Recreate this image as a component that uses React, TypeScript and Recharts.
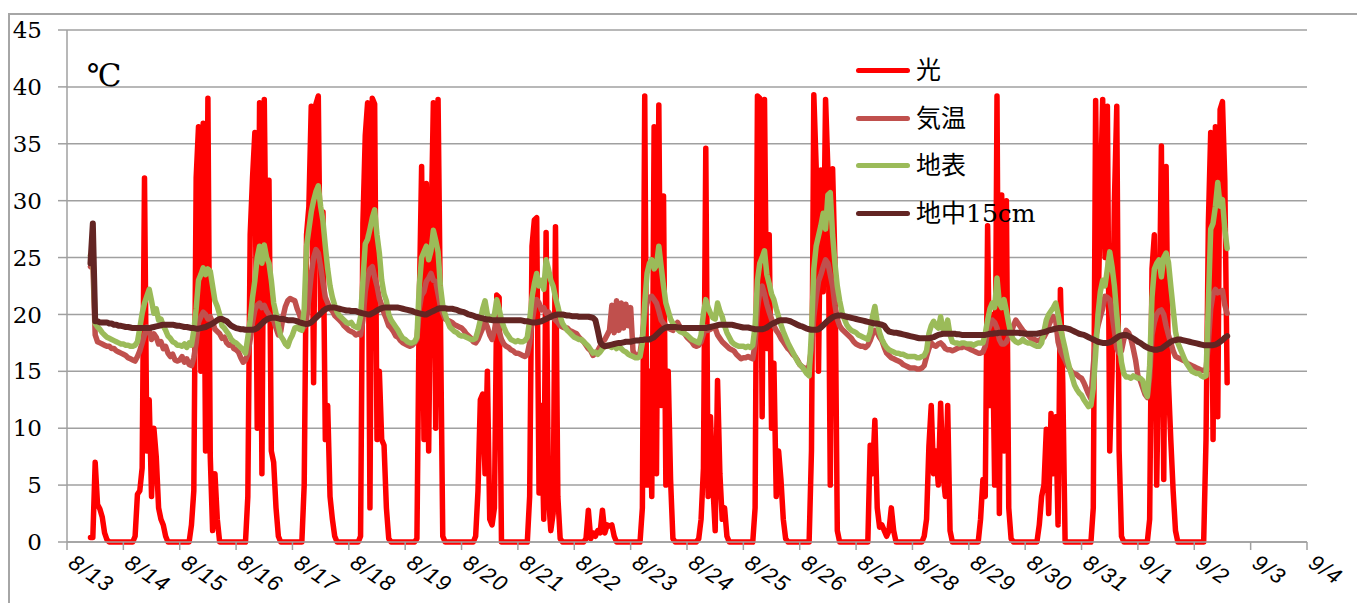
import { LineChart, Line, XAxis, YAxis, CartesianGrid } from "recharts";

const _ = null;

// x axis: one tick per day, 8/13 .. 9/4
const dayLabels = [
  "8/13", "8/14", "8/15", "8/16", "8/17", "8/18", "8/19", "8/20", "8/21", "8/22", "8/23", "8/24",
  "8/25", "8/26", "8/27", "8/28", "8/29", "8/30", "8/31", "9/1", "9/2", "9/3", "9/4",
];
const yTicks = [0, 5, 10, 15, 20, 25, 30, 35, 40, 45];

// 光 : hourly readings 4:00 .. 19:00, one row per day (8/13 .. 9/2)
const light: (number | null)[][] = [
  [_, _, _, _, _, _, 0.4, 0.4, 7, 3.3, 2.9, 2.2, 0.8, 0.2, 0, 0],
  [0, 0.5, 4.2, 4.5, 6.5, 32, 8, 12.5, 4, 10, 7.5, 3, 2, 1.5, 0.5, 0],
  [0, 1.5, 4.5, 32, 36.5, 15, 36.8, 8, 39, 7.5, 1, 6, 2, 0, 0, 0],
  [0, 4, 27, 32, 36, 10, 38.6, 6, 38.9, 20, 31.8, 8, 7, 3, 0.5, 0],
  [0, 5, 27, 29.5, 38.3, 14, 38.5, 39.2, 20, 29, 9, 12, 4, 2, 0.5, 0],
  [0, 0.5, 28, 35.7, 38.6, 3, 39, 38.5, 9, 15, 9, 8.5, 3, 0.3, 0, 0],
  [0, 0.3, 21, 33, 9, 31.5, 8, 27, 38.6, 10, 38.9, 20, 0.5, 0, 0, 0],
  [0, 0, 0.5, 4.5, 12.5, 13, 6, 15, 2, 1.5, 3, 21.7, 21.5, 0, 0, 0],
  [0, 4, 26, 28.3, 28.5, 4.3, 12, 2, 27.2, 4, 1, 2.5, 27.7, 4, 0.3, 0],
  [0, 0.3, 2.8, 0.3, 0.8, 0.5, 1, 0.8, 2.8, 0.8, 1.5, 1.4, 1.5, 0.5, 0, 0],
  [0, 3, 39.2, 5, 15, 4, 36.5, 6, 38.4, 12, 30.4, 5, 15, 5.5, 0.3, 0],
  [0, 0.3, 2, 6.5, 34.6, 4, 11, 5, 1, 14.2, 6, 2, 3, 0.5, 0, 0],
  [0, 3, 39.2, 39, 11, 38.9, 17, 27, 10, 15.7, 4, 8, 5.5, 2, 0.3, 0],
  [0, 8, 39.3, 33, 15, 32.7, 22, 38.9, 32.7, 5, 32.8, 24.5, 1, 0, 0, 0],
  [0, 0, 8.5, 6, 10.7, 3, 1.3, 1.5, 1, 0.5, 1, 3, 1, 0, 0, 0],
  [0, 0.5, 2, 8.4, 12, 6, 8, 5, 12.2, 6, 4, 12, 1, 0, 0, 0],
  [0, 2, 5.5, 4, 27.8, 12, 20, 5, 39.2, 2.5, 30.5, 8, 30, 3, 0.3, 0],
  [0, 0, 1.5, 4, 5, 9.9, 2.5, 11.3, 6, 11, 1.5, 22.2, 14, 0, 0, 0],
  [0, 3, 38.8, 20, 29.8, 38.9, 25, 38.3, 8, 15, 30, 38.3, 8, 0.5, 0, 0],
  [0, 2, 24, 27, 5, 18, 34.8, 5.5, 33, 14, 9, 4.5, 1, 0, 0, 0],
  [0, 9, 28, 36, 9, 36.5, 11, 38, 38.7, 31.8, 14, _, _, _, _, _],
];

// 気温 : hourly 0:00 .. 23:00
const airTemp: (number | null)[][] = [
  [_, _, _, _, _, _, _, _, _, _, 24.2, 24.5, 18.2, 17.6, 17.5, 17.4, 17.3, 17.2, 17.2, 17.0, 17.0, 16.8, 16.7, 16.6],
  [16.5, 16.4, 16.2, 16.1, 16.0, 15.9, 16.3, 16.8, 17.5, 18.2, 18.9, 18.6, 17.8, 18.3, 18.0, 17.4, 17.6, 17.0, 17.2, 16.6, 16.3, 16.5, 16.0, 15.9],
  [16.0, 16.3, 15.8, 16.1, 15.6, 15.5, 16.2, 17.5, 19.3, 19.8, 20.2, 20.0, 19.6, 19.8, 19.3, 18.7, 18.5, 18.3, 17.9, 18.0, 17.5, 17.3, 17.4, 17.0],
  [16.9, 16.7, 16.2, 15.8, 16.0, 16.5, 17.8, 19.3, 20.4, 20.8, 21.0, 20.6, 20.8, 20.3, 20.0, 19.6, 19.5, 18.8, 18.2, 18.5, 19.8, 20.7, 21.2, 21.4],
  [21.3, 21.2, 20.5, 20.0, 19.3, 18.9, 19.5, 21.5, 23.5, 25.0, 25.7, 25.4, 24.2, 22.8, 21.5, 21.0, 20.5, 20.3, 19.9, 19.7, 19.5, 19.3, 19.0, 18.8],
  [18.6, 18.5, 18.4, 18.2, 18.3, 18.2, 19.5, 22.0, 23.2, 24.0, 24.2, 23.3, 22.5, 21.4, 20.8, 20.1, 19.6, 19.0, 18.8, 18.5, 18.1, 18.0, 17.7, 17.5],
  [17.4, 17.3, 17.2, 17.3, 17.5, 17.8, 20.5, 21.7, 22.0, 22.9, 23.2, 23.6, 23.0, 22.9, 21.8, 20.7, 20.1, 19.6, 19.5, 19.4, 19.3, 19.1, 19.0, 18.9],
  [18.8, 18.6, 18.3, 18.1, 17.9, 17.6, 17.5, 17.8, 18.3, 18.8, 19.4, 18.9, 18.2, 17.8, 18.6, 19.9, 18.5, 17.8, 17.4, 17.2, 17.1, 16.9, 16.8, 16.6],
  [16.6, 16.5, 16.4, 16.3, 16.5, 17.5, 19.3, 20.6, 21.3, 21.0, 20.4, 20.6, 20.1, 20.2, 19.9, 19.7, 19.5, 19.3, 19.0, 18.9, 18.8, 18.8, 18.6, 18.5],
  [18.4, 18.3, 18.0, 17.8, 17.6, 17.3, 17.0, 16.8, 16.4, 16.6, 16.8, 17.2, 17.6, 17.8, 18.2, 18.6, 20.8, 18.4, 21.2, 18.6, 21.0, 18.8, 20.9, 19.0],
  [20.6, 16.8, 16.4, 16.4, 16.6, 18.0, 20.0, 21.0, 21.5, 21.6, 21.3, 21.0, 20.3, 19.5, 19.2, 19.0, 18.8, 18.7, 18.6, 19.0, 19.3, 18.9, 18.6, 18.3],
  [18.0, 17.8, 17.6, 17.3, 17.2, 17.3, 17.6, 18.3, 18.9, 18.6, 18.7, 18.9, 18.8, 18.2, 17.9, 17.6, 17.4, 17.2, 17.0, 16.9, 16.8, 16.5, 16.3, 16.1],
  [16.2, 16.2, 16.3, 16.2, 16.1, 17.5, 20.5, 22.0, 22.5, 21.8, 20.9, 20.2, 19.6, 19.0, 18.6, 18.3, 17.9, 17.6, 17.3, 17.0, 16.8, 16.5, 16.3, 16.0],
  [15.6, 15.4, 15.3, 15.1, 15.5, 17.0, 19.8, 21.5, 22.9, 23.5, 24.2, 24.8, 24.5, 23.5, 22.5, 20.8, 19.6, 19.0, 18.7, 18.5, 18.3, 18.1, 17.9, 17.6],
  [17.4, 17.3, 17.2, 17.2, 17.1, 17.3, 17.7, 18.3, 18.6, 18.4, 18.0, 17.7, 17.1, 16.6, 16.4, 16.2, 16.1, 16.0, 15.9, 15.8, 15.6, 15.5, 15.4, 15.3],
  [15.3, 15.3, 15.2, 15.2, 15.3, 15.5, 16.3, 17.0, 17.5, 17.3, 17.2, 17.4, 17.5, 17.3, 17.0, 16.9, 16.9, 16.8, 16.9, 17.0, 17.1, 17.1, 17.2, 17.1],
  [17.0, 16.9, 16.8, 16.7, 16.6, 16.6, 16.7, 17.2, 18.5, 19.0, 19.5, 19.3, 18.8, 17.8, 17.4, 17.4, 17.6, 18.0, 18.4, 19.0, 19.5, 19.2, 18.9, 18.6],
  [18.4, 18.2, 18.0, 17.8, 17.8, 17.7, 17.7, 17.9, 18.0, 18.4, 19.0, 19.5, 19.8, 19.5, 17.6, 16.8, 16.4, 16.0, 15.5, 15.2, 14.9, 14.8, 14.7, 14.5],
  [14.4, 14.0, 13.5, 13.0, 12.6, 15.5, 18.0, 19.0, 19.8, 20.5, 21.6, 21.5, 21.3, 20.0, 18.5, 17.0, 16.6, 16.8, 17.8, 18.6, 18.4, 17.9, 17.0, 16.0],
  [14.6, 14.2, 13.6, 13.0, 12.7, 14.5, 18.2, 19.3, 20.0, 20.3, 20.4, 20.0, 19.0, 18.2, 17.5, 16.8, 16.3, 16.2, 16.1, 16.0, 15.9, 15.7, 15.6, 15.5],
  [15.4, 15.3, 15.2, 15.1, 15.1, 15.1, 17.5, 20.5, 21.8, 22.2, 21.9, 22.0, 22.1, 20.8, 20.1, _, _, _, _, _, _, _, _, _],
];

// 地表 : hourly 0:00 .. 23:00
const surfaceTemp: (number | null)[][] = [
  [_, _, _, _, _, _, _, _, _, _, 25.2, 25.5, 19.2, 18.9, 18.7, 18.4, 18.2, 18.0, 17.9, 17.8, 17.7, 17.6, 17.5, 17.4],
  [17.4, 17.3, 17.3, 17.2, 17.2, 17.3, 17.6, 18.8, 20.1, 21.0, 21.6, 22.2, 21.2, 20.1, 20.5, 19.5, 19.6, 19.0, 18.6, 18.1, 17.9, 17.6, 17.5, 17.3],
  [17.3, 17.2, 17.4, 17.1, 17.5, 17.3, 18.6, 20.5, 23.0, 23.5, 24.1, 23.5, 24.0, 23.8, 22.5, 21.2, 20.7, 20.0, 19.0, 18.8, 18.5, 18.2, 17.8, 17.6],
  [17.5, 17.3, 17.1, 16.9, 16.6, 18.0, 19.5, 21.5, 23.0, 25.0, 26.0, 24.5, 26.1, 25.0, 24.5, 23.0, 21.0, 20.1, 19.0, 18.1, 17.8, 17.4, 17.2, 17.8],
  [18.2, 18.8, 18.9, 18.7, 18.6, 20.5, 26.0, 27.5, 29.0, 30.0, 30.8, 31.3, 29.5, 28.2, 26.0, 24.0, 22.5, 21.5, 20.8, 20.2, 19.9, 19.7, 19.5, 19.3],
  [19.2, 19.3, 19.0, 18.9, 18.8, 19.8, 23.0, 26.2, 26.6, 27.5, 28.5, 29.2, 27.0, 25.4, 23.0, 21.8, 21.2, 20.0, 19.5, 19.2, 18.9, 18.6, 18.2, 17.9],
  [17.8, 17.6, 17.5, 17.5, 17.6, 18.0, 22.5, 25.0, 25.5, 26.0, 24.8, 25.6, 27.4, 26.5, 25.5, 22.5, 20.8, 20.0, 19.4, 18.9, 18.7, 18.5, 18.4, 18.2],
  [18.1, 18.1, 18.0, 17.9, 17.8, 17.8, 17.9, 18.6, 19.5, 20.5, 21.2, 20.0, 19.5, 19.6, 20.0, 21.3, 20.5, 19.5, 18.9, 18.4, 18.1, 17.8, 17.7, 17.6],
  [17.7, 17.6, 17.6, 17.7, 18.0, 19.5, 21.5, 22.7, 23.6, 22.5, 23.0, 22.2, 24.8, 24.0, 23.0, 22.5, 21.5, 20.7, 19.8, 19.2, 18.9, 18.6, 18.4, 18.2],
  [18.0, 17.9, 17.8, 17.8, 17.6, 17.4, 17.2, 16.9, 16.6, 16.7, 16.5, 16.7, 17.0, 17.2, 17.3, 17.2, 17.1, 17.3, 17.0, 17.2, 17.0, 16.8, 16.7, 16.5],
  [16.4, 16.3, 16.2, 16.2, 16.3, 17.5, 21.0, 23.6, 24.5, 24.8, 24.0, 24.3, 26.0, 24.2, 22.5, 21.0, 20.3, 19.6, 19.2, 18.9, 18.7, 18.5, 18.4, 18.3],
  [18.2, 18.0, 17.8, 17.7, 17.6, 17.5, 18.2, 20.1, 21.3, 20.6, 20.1, 19.7, 19.6, 21.0, 20.3, 19.8, 19.0, 18.4, 18.0, 17.6, 17.4, 17.3, 17.2, 17.2],
  [17.2, 17.1, 17.2, 17.1, 17.3, 19.0, 23.0, 24.5, 25.0, 25.6, 23.5, 22.7, 21.8, 21.3, 20.5, 19.8, 19.1, 18.5, 18.0, 17.5, 17.1, 16.7, 16.3, 15.9],
  [15.6, 15.4, 15.1, 14.8, 14.6, 18.5, 24.0, 26.0, 26.9, 27.8, 28.9, 27.5, 30.5, 30.7, 27.0, 24.5, 22.5, 21.2, 20.2, 19.6, 19.1, 18.8, 18.6, 18.5],
  [18.4, 18.2, 18.1, 18.0, 17.9, 17.8, 18.4, 19.8, 20.7, 19.3, 18.4, 17.8, 17.4, 17.1, 16.9, 16.8, 16.7, 16.6, 16.6, 16.5, 16.5, 16.4, 16.3, 16.3],
  [16.3, 16.3, 16.2, 16.2, 16.3, 16.4, 16.8, 18.3, 19.0, 19.4, 19.0, 18.8, 19.8, 18.7, 18.5, 19.5, 18.2, 17.6, 17.5, 17.5, 17.4, 17.5, 17.5, 17.4],
  [17.4, 17.4, 17.3, 17.4, 17.5, 17.5, 17.5, 18.3, 19.5, 20.5, 21.0, 20.6, 23.2, 21.0, 20.6, 21.3, 20.3, 19.2, 18.2, 17.8, 17.6, 17.5, 17.6, 17.8],
  [17.6, 17.5, 17.5, 17.4, 17.3, 17.2, 17.2, 17.5, 18.5, 19.5, 20.0, 20.3, 20.6, 21.0, 20.0, 18.8, 17.9, 17.0, 16.0, 15.2, 14.5, 13.8, 13.4, 13.1],
  [12.9, 12.5, 12.2, 11.9, 12.0, 13.5, 16.5, 20.0, 22.0, 23.0, 22.5, 24.0, 25.5, 24.2, 22.5, 20.0, 17.8, 15.8, 14.8, 14.5, 14.5, 14.4, 14.6, 14.5],
  [14.4, 14.4, 14.2, 13.3, 12.8, 15.5, 21.5, 24.0, 24.5, 24.8, 23.3, 25.0, 25.4, 24.6, 22.5, 20.5, 18.5, 17.5, 17.0, 16.5, 16.0, 15.6, 15.3, 15.0],
  [14.9, 14.8, 14.8, 14.6, 14.5, 14.6, 21.0, 27.5, 28.0, 29.5, 31.6, 29.5, 30.1, 27.5, 25.8, _, _, _, _, _, _, _, _, _],
];

// 地中15cm : hourly 0:00 .. 23:00
const soilTemp: (number | null)[][] = [
  [_, _, _, _, _, _, _, _, _, _, 24.5, 28.0, 19.4, 19.4, 19.3, 19.3, 19.3, 19.3, 19.2, 19.2, 19.1, 19.1, 19.0, 19.0],
  [18.95, 18.9, 18.9, 18.85, 18.8, 18.8, 18.8, 18.8, 18.8, 18.8, 18.8, 18.8, 18.85, 18.9, 18.95, 19.0, 19.05, 19.1, 19.1, 19.1, 19.1, 19.1, 19.05, 19.0],
  [19.0, 18.95, 18.9, 18.9, 18.85, 18.8, 18.8, 18.75, 18.75, 18.8, 18.85, 18.9, 19.0, 19.1, 19.2, 19.35, 19.5, 19.6, 19.6, 19.5, 19.4, 19.2, 19.0, 18.9],
  [18.8, 18.75, 18.7, 18.7, 18.65, 18.65, 18.65, 18.65, 18.7, 18.8, 19.0, 19.2, 19.4, 19.55, 19.65, 19.7, 19.7, 19.7, 19.65, 19.6, 19.6, 19.55, 19.5, 19.5],
  [19.5, 19.45, 19.4, 19.3, 19.25, 19.2, 19.15, 19.2, 19.3, 19.5, 19.7, 19.9, 20.1, 20.3, 20.45, 20.55, 20.6, 20.6, 20.6, 20.55, 20.5, 20.45, 20.4, 20.35],
  [20.35, 20.3, 20.3, 20.3, 20.2, 20.15, 20.1, 20.05, 20.0, 20.0, 20.1, 20.2, 20.35, 20.45, 20.55, 20.6, 20.6, 20.6, 20.6, 20.6, 20.6, 20.6, 20.55, 20.5],
  [20.45, 20.4, 20.35, 20.3, 20.2, 20.15, 20.1, 20.05, 20.0, 20.0, 20.1, 20.2, 20.3, 20.4, 20.5, 20.55, 20.55, 20.55, 20.5, 20.5, 20.5, 20.45, 20.4, 20.3],
  [20.25, 20.2, 20.1, 20.0, 19.95, 19.9, 19.8, 19.75, 19.7, 19.65, 19.6, 19.55, 19.55, 19.5, 19.5, 19.5, 19.5, 19.5, 19.5, 19.5, 19.5, 19.5, 19.5, 19.5],
  [19.5, 19.5, 19.45, 19.4, 19.4, 19.35, 19.3, 19.3, 19.3, 19.35, 19.4, 19.5, 19.6, 19.7, 19.8, 19.9, 19.95, 20.0, 20.0, 20.0, 19.95, 19.9, 19.9, 19.85],
  [19.85, 19.85, 19.8, 19.8, 19.8, 19.8, 19.8, 19.75, 19.7, 19.5, 18.6, 17.6, 17.3, 17.2, 17.25, 17.3, 17.35, 17.4, 17.45, 17.5, 17.5, 17.55, 17.6, 17.6],
  [17.6, 17.65, 17.7, 17.7, 17.75, 17.75, 17.8, 17.8, 17.8, 17.9, 18.0, 18.2, 18.4, 18.6, 18.75, 18.85, 18.9, 18.9, 18.9, 18.9, 18.85, 18.85, 18.8, 18.8],
  [18.8, 18.8, 18.8, 18.8, 18.8, 18.8, 18.8, 18.8, 18.8, 18.85, 18.9, 18.95, 19.0, 19.05, 19.1, 19.1, 19.1, 19.1, 19.1, 19.1, 19.05, 19.0, 18.95, 18.9],
  [18.85, 18.85, 18.85, 18.8, 18.75, 18.7, 18.7, 18.7, 18.7, 18.75, 18.85, 19.0, 19.15, 19.25, 19.35, 19.45, 19.5, 19.5, 19.5, 19.45, 19.4, 19.3, 19.2, 19.1],
  [19.0, 18.95, 18.85, 18.75, 18.7, 18.65, 18.65, 18.65, 18.7, 18.85, 19.05, 19.25, 19.45, 19.6, 19.75, 19.85, 19.9, 19.9, 19.9, 19.85, 19.8, 19.75, 19.7, 19.65],
  [19.6, 19.55, 19.5, 19.45, 19.4, 19.35, 19.3, 19.25, 19.2, 19.2, 19.15, 19.1, 19.0, 18.7, 18.5, 18.45, 18.4, 18.4, 18.35, 18.3, 18.25, 18.2, 18.15, 18.1],
  [18.05, 18.0, 17.95, 17.9, 17.9, 17.9, 17.9, 17.9, 17.95, 18.0, 18.1, 18.2, 18.25, 18.3, 18.3, 18.3, 18.3, 18.3, 18.3, 18.25, 18.25, 18.2, 18.2, 18.2],
  [18.2, 18.2, 18.2, 18.2, 18.2, 18.2, 18.2, 18.2, 18.25, 18.3, 18.3, 18.35, 18.35, 18.4, 18.4, 18.4, 18.4, 18.4, 18.4, 18.4, 18.4, 18.4, 18.35, 18.35],
  [18.3, 18.3, 18.3, 18.3, 18.3, 18.3, 18.35, 18.4, 18.45, 18.5, 18.6, 18.65, 18.7, 18.75, 18.8, 18.8, 18.8, 18.8, 18.75, 18.7, 18.6, 18.5, 18.4, 18.3],
  [18.25, 18.2, 18.1, 18.0, 17.9, 17.8, 17.7, 17.6, 17.55, 17.5, 17.5, 17.5, 17.55, 17.65, 17.8, 17.95, 18.1, 18.15, 18.2, 18.2, 18.1, 18.0, 17.9, 17.75],
  [17.6, 17.5, 17.35, 17.2, 17.1, 17.0, 16.95, 16.9, 16.9, 16.95, 17.0, 17.15, 17.3, 17.45, 17.6, 17.7, 17.75, 17.8, 17.8, 17.75, 17.7, 17.65, 17.6, 17.55],
  [17.5, 17.45, 17.4, 17.35, 17.3, 17.3, 17.3, 17.3, 17.3, 17.35, 17.45, 17.6, 17.75, 17.95, 18.1, _, _, _, _, _, _, _, _, _],
];

// rows of day readings -> points on a day axis (t = days since 8/13 0:00)
function toPoints(rows: (number | null)[][], firstHour: number) {
  const pts: { t: number; v: number }[] = [];
  rows.forEach((row, day) => {
    row.forEach((v, i) => {
      if (v !== null) pts.push({ t: day + (firstHour + i) / 24, v });
    });
  });
  return pts;
}

const series = [
  { name: "光", color: "#FF0000", width: 5.5, data: toPoints(light, 4) },
  { name: "気温", color: "#C0504D", width: 5.5, data: toPoints(airTemp, 0) },
  { name: "地表", color: "#9BBB59", width: 5.5, data: toPoints(surfaceTemp, 0) },
  { name: "地中15cm", color: "#632523", width: 6, data: toPoints(soilTemp, 0) },
];

const serif = "'DejaVu Serif', 'Liberation Serif', 'Noto Sans CJK JP', serif";
const gridColor = "#a0a0a0";

const DateTick = (props: any) => {
  const { x, y, payload } = props;
  const tx = x;
  const ty = y + 14;
  return (
    <text
      x={tx}
      y={ty}
      transform={`rotate(34 ${tx} ${ty})`}
      fontFamily="'Liberation Sans', Arial, sans-serif"
      fontStyle="italic"
      fontSize={22}
      letterSpacing={1.5}
      fill="#000"
    >
      {dayLabels[payload.value]}
    </text>
  );
};

export default function App() {
  return (
    <div
      style={{
        position: "relative",
        marginTop: 5,
        width: 1347,
        height: 600,
        border: "2px solid #a6a6a6",
        background: "#fff",
      }}
    >
      <style>{"html,body{overflow:hidden}"}</style>
      <LineChart width={1347} height={600} margin={{ top: 15, right: 50, bottom: 13, left: 7 }}>
        <CartesianGrid vertical={false} stroke={gridColor} strokeWidth={1.5} />
        <XAxis
          type="number"
          dataKey="t"
          domain={[0, 22]}
          ticks={dayLabels.map((_, i) => i)}
          interval={0}
          height={60}
          tickSize={8}
          stroke={gridColor}
          strokeWidth={1.5}
          tick={<DateTick />}
          allowDataOverflow
        />
        <YAxis
          type="number"
          domain={[0, 45]}
          ticks={yTicks}
          interval={0}
          width={50}
          tickSize={9}
          tickMargin={16}
          stroke={gridColor}
          strokeWidth={1.5}
          tick={{ fill: "#000", fontFamily: serif, fontSize: 23 }}
        />
        {series.map((s) => (
          <Line
            key={s.name}
            data={s.data}
            dataKey="v"
            name={s.name}
            type="linear"
            stroke={s.color}
            strokeWidth={s.width}
            strokeLinejoin="round"
            strokeLinecap="round"
            dot={false}
            activeDot={false}
            isAnimationActive={false}
          />
        ))}
      </LineChart>

      <span
        style={{
          position: "absolute",
          left: 77,
          top: 45,
          fontFamily: serif,
          fontSize: 31,
          lineHeight: 1,
        }}
      >
        ℃
      </span>

      <div style={{ position: "absolute", left: 846, top: 32 }}>
        {series.map((s) => (
          <div key={s.name} style={{ display: "flex", alignItems: "center", height: 47.5 }}>
            <div style={{ width: 54, height: 5, borderRadius: 3, background: s.color }} />
            <span style={{ marginLeft: 6, fontFamily: serif, fontSize: 25, lineHeight: 1 }}>{s.name}</span>
          </div>
        ))}
      </div>
    </div>
  );
}
